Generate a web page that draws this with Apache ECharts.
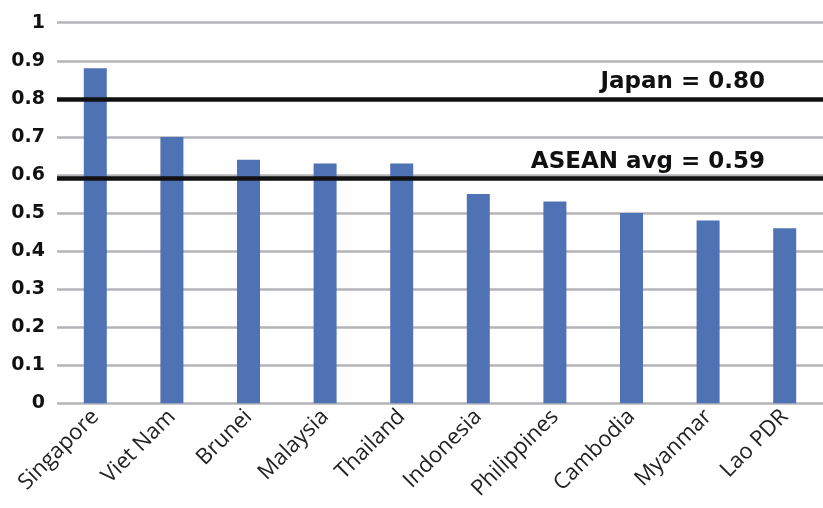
<!DOCTYPE html>
<html><head><meta charset="utf-8">
<script src="https://cdn.jsdelivr.net/npm/echarts@6/dist/echarts.min.js"></script>
<style>html,body{margin:0;padding:0;background:#fff}#c{width:823px;height:508px}</style>
</head><body><div id="c"></div>
<script>
const categories = ['Singapore','Viet Nam','Brunei','Malaysia','Thailand','Indonesia','Philippines','Cambodia','Myanmar','Lao PDR'];
const values = [0.88, 0.70, 0.64, 0.63, 0.63, 0.55, 0.53, 0.50, 0.48, 0.46];
const japanValue = 0.80;
const aseanAvg = 0.59;
const refLabels = ['Japan = 0.80', 'ASEAN avg = 0.59'];

const chart = echarts.init(document.getElementById('c'), null, {renderer:'canvas'});
chart.setOption({
  animation:false,
  backgroundColor:'#fff',
  grid:{left:57, top:22.7, width:786, height:380.6, containLabel:false},
  xAxis:{
    type:'category', data:categories,
    axisLine:{show:false}, axisTick:{show:false},
    axisLabel:{rotate:45, interval:0, margin:10, fontFamily:'Open Sans', fontSize:22, color:'#222'}
  },
  yAxis:{
    type:'value', min:0, max:1, interval:0.1,
    axisLine:{show:false}, axisTick:{show:false},
    axisLabel:{fontFamily:'DejaVu Sans', fontWeight:'bold', fontSize:19, color:'#111', margin:12,
      formatter:v=>String(+v.toFixed(1))},
    splitLine:{lineStyle:{color:'#b4b4b8', width:2.5}}
  },
  series:[{
    type:'bar', data:values, barWidth:23,
    itemStyle:{color:'#4f72b5'},
    markLine:{
      symbol:'none', silent:true,
      lineStyle:{color:'#111', width:4.5, type:'solid'},
      label:{position:'insideEndTop', fontFamily:'DejaVu Sans', fontWeight:'bold', fontSize:23, color:'#111', distance:[58,5]},
      data:[
        {yAxis:japanValue, label:{formatter:refLabels[0]}},
        {yAxis:aseanAvg, label:{formatter:refLabels[1]}}
      ]
    }
  }]
});
</script></body></html>
